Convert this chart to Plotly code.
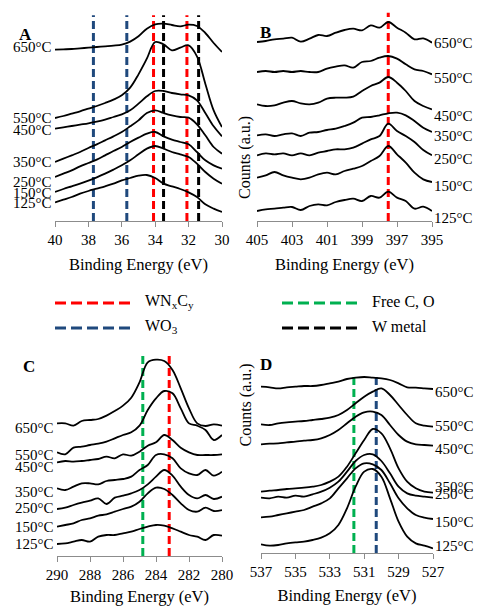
import plotly.graph_objects as go

# ==========================================
# DATA (counts in arbitrary units)
# ==========================================
TEMPS = ["650", "550", "450", "350", "250", "150", "125"]

# --- A: W 4f ---
A_X = [40, 39.5, 39, 38.5, 38, 37.5, 37, 36.5, 36, 35.5, 35, 34.5, 34, 33.5, 33, 32.5, 32, 31.5, 31, 30.5, 30]
A_650 = [514, 515, 516, 518, 520, 522, 524, 526, 529, 538, 554, 577, 590, 592, 588, 584, 589, 585, 564, 534, 507]
A_550 = [309, 315, 322, 329, 337, 345, 354, 364, 377, 400, 440, 487, 537, 530, 512, 520, 527, 494, 412, 332, 282]
A_450 = [277, 281, 285, 289, 293, 298, 304, 312, 320, 332, 352, 374, 390, 390, 384, 380, 377, 362, 324, 284, 254]
A_350 = [177, 187, 197, 207, 219, 230, 242, 254, 267, 284, 302, 324, 332, 324, 317, 312, 310, 290, 257, 222, 202]
A_250 = [132, 142, 152, 164, 174, 184, 197, 210, 222, 237, 250, 262, 267, 254, 244, 237, 230, 207, 182, 167, 157]
A_150 = [87, 96, 104, 112, 121, 131, 142, 154, 167, 182, 200, 217, 225, 217, 207, 200, 192, 172, 147, 127, 112]
A_125 = [56, 64, 72, 82, 90, 97, 104, 112, 122, 129, 136, 138, 129, 112, 104, 96, 86, 72, 50, 37, 27]
A_LABEL_Y = [522, 309, 272, 177, 117, 84, 54]

# --- B: N 1s ---
B_X = [405, 404.5, 404, 403.5, 403, 402.5, 402, 401.5, 401, 400.5, 400, 399.5, 399, 398.5, 398, 397.5, 397, 396.5, 396, 395.5, 395]
B_650 = [537, 540, 545, 547, 550, 538, 547, 558, 555, 565, 573, 577, 572, 587, 580, 597, 580, 565, 545, 548, 535]
B_550 = [447, 450, 447, 450, 447, 450, 447, 447, 457, 463, 467, 460, 477, 480, 490, 495, 487, 470, 455, 450, 440]
B_450 = [350, 345, 347, 355, 360, 353, 350, 355, 367, 370, 370, 373, 390, 405, 415, 432, 415, 390, 360, 345, 335]
B_350 = [257, 260, 255, 260, 263, 255, 265, 267, 273, 277, 285, 295, 310, 312, 317, 323, 325, 317, 300, 280, 267]
B_250 = [197, 203, 200, 203, 197, 203, 197, 205, 210, 215, 215, 220, 232, 245, 255, 292, 270, 255, 237, 213, 197]
B_150 = [130, 137, 147, 137, 130, 125, 130, 140, 145, 140, 150, 157, 165, 180, 195, 225, 200, 175, 145, 125, 117]
B_125 = [30, 35, 37, 40, 42, 33, 45, 50, 47, 57, 63, 67, 60, 75, 70, 88, 70, 60, 37, 43, 30]
B_LABEL_Y = [535, 430, 315, 255, 185, 105, 10]

# --- C: C 1s ---
C_X = [290, 289.5, 289, 288.5, 288, 287.5, 287, 286.5, 286, 285.5, 285, 284.5, 284, 283.5, 283, 282.5, 282, 281.5, 281, 280.5, 280]
C_650 = [398, 398, 391, 405, 408, 411, 421, 435, 451, 475, 521, 581, 589, 585, 558, 503, 443, 398, 390, 395, 391]
C_550 = [311, 305, 325, 328, 333, 337, 343, 353, 363, 371, 391, 438, 473, 495, 488, 443, 398, 391, 378, 348, 363]
C_450 = [281, 285, 283, 285, 288, 291, 298, 293, 305, 301, 313, 331, 341, 363, 348, 325, 311, 303, 303, 303, 305]
C_350 = [203, 198, 208, 218, 218, 215, 225, 228, 231, 238, 258, 273, 303, 305, 293, 263, 248, 243, 258, 241, 253]
C_250 = [141, 145, 153, 160, 166, 173, 156, 175, 181, 188, 198, 215, 238, 258, 241, 208, 183, 173, 183, 171, 178]
C_150 = [88, 93, 98, 108, 113, 121, 125, 133, 141, 148, 163, 188, 205, 201, 183, 158, 138, 133, 145, 135, 138]
C_125 = [36, 38, 43, 48, 43, 58, 63, 63, 68, 73, 81, 88, 93, 91, 83, 73, 63, 58, 48, 63, 61]
C_LABEL_Y = [383, 303, 268, 193, 143, 86, 36]

# --- D: O 1s ---
D_X = [537, 536.5, 536, 535.5, 535, 534.5, 534, 533.5, 533, 532.5, 532, 531.5, 531, 530.5, 530, 529.5, 529, 528.5, 528, 527.5, 527]
D_650 = [499, 497, 494, 497, 499, 501, 501, 504, 509, 514, 522, 526, 528, 526, 524, 519, 509, 497, 496, 494, 492]
D_550 = [386, 384, 389, 392, 394, 396, 399, 402, 406, 414, 429, 449, 469, 484, 494, 474, 444, 414, 389, 382, 379]
D_450 = [326, 328, 329, 332, 334, 337, 339, 344, 354, 369, 389, 409, 422, 424, 414, 384, 354, 334, 326, 324, 322]
D_350 = [184, 187, 189, 192, 194, 196, 199, 204, 214, 229, 259, 299, 339, 372, 359, 314, 254, 214, 194, 184, 181]
D_250 = [166, 164, 169, 166, 172, 169, 176, 184, 196, 214, 244, 276, 294, 296, 276, 239, 199, 179, 172, 169, 166]
D_150 = [107, 109, 114, 119, 124, 129, 139, 149, 164, 194, 224, 254, 269, 266, 249, 209, 164, 134, 114, 106, 102]
D_125 = [26, 22, 24, 29, 32, 34, 39, 46, 59, 84, 134, 199, 244, 252, 229, 164, 94, 49, 29, 22, 14]
D_LABEL_Y = [484, 381, 311, 199, 177, 94, 21]

# reference peak positions (eV)
A_WO3 = [37.7, 35.7]
A_WNC = [34.1, 32.1]
A_WMETAL = [33.5, 31.4]
B_WNC = [397.5]
C_FREE = [284.8]
C_WNC = [283.2]
D_FREE = [531.6]
D_WO3 = [530.3]

RED = "#FF0000"
BLUE = "#1F497D"
GREEN = "#00B050"
BLACK = "#000000"
FONT = "Liberation Serif, Times New Roman, serif"
W, H = 478, 606


def px(x):
    return x / W


def py(y):
    return 1 - y / H


panels = [
    dict(name="A", ax="", x=A_X, curves=[A_650, A_550, A_450, A_350, A_250, A_150, A_125],
         label_y=A_LABEL_Y, side="left", xdom=[55, 222], ydom=[8, 221], yrange=639,
         rng=[40, 30], tick0=30, refs=[(A_WO3, BLUE), (A_WNC, RED), (A_WMETAL, BLACK)], ref_top=617,
         letter=(17, 23), counts=False, standoff=11),
    dict(name="B", ax="2", x=B_X, curves=[B_650, B_550, B_450, B_350, B_250, B_150, B_125],
         label_y=B_LABEL_Y, side="right", xdom=[257, 432], ydom=[8, 221], yrange=639,
         rng=[405, 395], tick0=395, refs=[(B_WNC, RED)], ref_top=625,
         letter=(265, 21), counts=True, standoff=11),
    dict(name="C", ax="3", x=C_X, curves=[C_650, C_550, C_450, C_350, C_250, C_150, C_125],
         label_y=C_LABEL_Y, side="left", xdom=[57, 222], ydom=[345, 556], yrange=633,
         rng=[290, 280], tick0=280, refs=[(C_FREE, GREEN), (C_WNC, RED)], ref_top=600,
         letter=(21, 367), counts=False, standoff=8),
    dict(name="D", ax="4", x=D_X, curves=[D_650, D_550, D_450, D_350, D_250, D_150, D_125],
         label_y=D_LABEL_Y, side="right", xdom=[261, 433], ydom=[345, 553], yrange=624,
         rng=[537, 527], tick0=527, refs=[(D_FREE, GREEN), (D_WO3, BLUE)], ref_top=539,
         letter=(266, 364), counts=True, standoff=10),
]

fig = go.Figure()
annotations = []
shapes = []

for p in panels:
    xa, ya = "x" + p["ax"], "y" + p["ax"]

    # reference dashed lines first so spectra sit on top
    for positions, color in p["refs"]:
        for v in positions:
            shapes.append(dict(type="line", xref=xa, yref=ya, x0=v, x1=v, y0=0, y1=p["ref_top"],
                               line=dict(color=color, width=3, dash="8px,4px"), layer="below"))

    for temp, ys, ly in zip(TEMPS, p["curves"], p["label_y"]):
        fig.add_trace(go.Scatter(x=p["x"], y=ys, mode="lines", xaxis=xa, yaxis=ya,
                                 line=dict(color=BLACK, width=1.8, shape="spline", smoothing=1.0),
                                 showlegend=False, hoverinfo="skip"))
        if p["side"] == "left":
            annotations.append(dict(x=p["rng"][0], y=ly, xref=xa, yref=ya, text=f"{temp}°C",
                                    showarrow=False, xanchor="right", xshift=-1,
                                    font=dict(family=FONT, size=15, color=BLACK)))
        else:
            annotations.append(dict(x=p["rng"][1], y=ly, xref=xa, yref=ya, text=f"{temp}°C",
                                    showarrow=False, xanchor="left", xshift=0,
                                    font=dict(family=FONT, size=15, color=BLACK)))

    axis_x = dict(domain=[px(p["xdom"][0]), px(p["xdom"][1])], range=p["rng"], anchor=ya,
                  showline=True, linecolor="#8c8c8c", linewidth=1, ticks="outside", ticklen=5,
                  tickcolor="#8c8c8c", tick0=p["tick0"], dtick=2, showgrid=False, zeroline=False,
                  tickfont=dict(family=FONT, size=15, color=BLACK), automargin=False,
                  title=dict(text="Binding Energy (eV)", standoff=p["standoff"],
                             font=dict(family=FONT, size=16.5, color=BLACK)))
    axis_y = dict(domain=[py(p["ydom"][1]), py(p["ydom"][0])], range=[0, p["yrange"]],
                  anchor=xa, visible=False, fixedrange=True)
    fig.update_layout(**{"xaxis" + p["ax"]: axis_x, "yaxis" + p["ax"]: axis_y})

    annotations.append(dict(x=px(p["letter"][0]), y=py(p["letter"][1]), xref="paper", yref="paper",
                            text=f"<b>{p['name']}</b>", showarrow=False,
                            font=dict(family=FONT, size=17, color=BLACK)))
    if p["counts"]:
        mid = (p["ydom"][0] + p["ydom"][1]) / 2
        annotations.append(dict(x=px(245), y=py(mid), xref="paper", yref="paper",
                                text="Counts (a.u.)", textangle=-90, showarrow=False,
                                font=dict(family=FONT, size=16, color=BLACK)))

# legend drawn by hand (2 x 2 grid)
legend_items = [
    ("WN<sub>x</sub>C<sub>y</sub>", RED, 55, 303),
    ("WO<sub>3</sub>", BLUE, 55, 328),
    ("Free C, O", GREEN, 282, 303),
    ("W metal", BLACK, 282, 328),
]
for text, color, lx, ly in legend_items:
    shapes.append(dict(type="line", xref="paper", yref="paper", x0=px(lx), x1=px(lx + 75),
                       y0=py(ly), y1=py(ly), line=dict(color=color, width=3, dash="11px,5px")))
    annotations.append(dict(x=px(lx + 88), y=py(ly - 2), xref="paper", yref="paper", text=text,
                            showarrow=False, xanchor="left",
                            font=dict(family=FONT, size=16, color=BLACK)))

fig.update_layout(
    width=W, height=H,
    margin=dict(l=0, r=0, t=0, b=0),
    font=dict(family=FONT, color=BLACK),
    paper_bgcolor="white", plot_bgcolor="white",
    shapes=shapes, annotations=annotations,
    showlegend=False,
)

# drop the browser's default body margin so the figure sits at the page corner
fig.write_html("out.html", config={"displayModeBar": False},
               post_script="document.body.style.margin='0';")
